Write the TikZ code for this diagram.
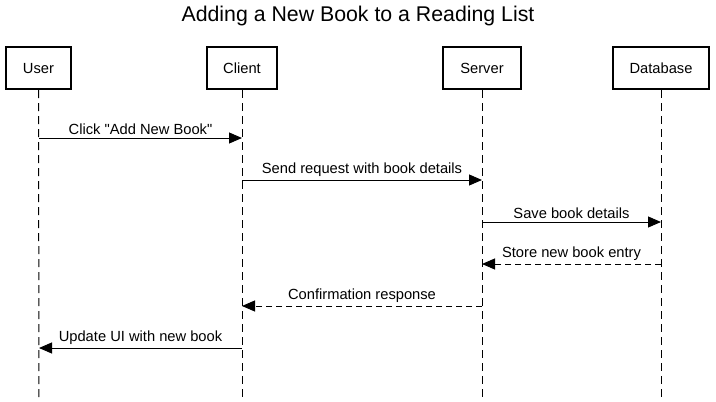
\documentclass[tikz,border=0pt]{standalone}
\usepackage{fontspec}
\setmainfont{Liberation Sans}
\usetikzlibrary{arrows.meta}
\begin{document}
\begin{tikzpicture}[x=1pt,y=-1pt,
  actor/.style={draw=black,line width=2.2pt,minimum height=42pt,inner sep=0pt,font=\fontsize{14.7}{16}\selectfont,anchor=north},
  life/.style={line width=1pt,dash pattern=on 8pt off 5pt},
  msg/.style={line width=1pt,-{Triangle[length=13pt,width=11pt]}},
  ret/.style={msg,dash pattern=on 6pt off 4pt},
  lbl/.style={font=\fontsize{14.7}{16}\selectfont,inner sep=0pt,anchor=base}]
\useasboundingbox (0,0) rectangle (716,402);
\fill[white] (0,0) rectangle (716,402);
\node[font=\fontsize{21.3}{24}\selectfont] (title) at (358,16) {Adding a New Book to a Reading List};
\node[actor,minimum width=65pt] (user) at (38.5,46) {User};
\node[actor,minimum width=70pt] (client) at (242,46) {Client};
\node[actor,minimum width=78pt] (server) at (482,46) {Server};
\node[actor,minimum width=96pt] (db) at (661,46) {Database};
\foreach \n/\x in {user/39,client/242,server/482,db/661}{
  \coordinate (\n end) at (\x,402);
  \draw[life] (\n.south) -- (\n end);
}
\foreach \n/\y in {1/138,2/180,3/222,4/264,5/306,6/348}{
  \coordinate (u\n) at (39,\y);
  \coordinate (c\n) at (242,\y);
  \coordinate (s\n) at (482,\y);
  \coordinate (d\n) at (661,\y);
}
\draw[msg] (u1) -- (c1) node[lbl,midway,above=3pt] {Click \textquotedbl Add New Book\textquotedbl};
\draw[msg] (c2) -- (s2) node[lbl,midway,above=3pt] {Send request with book details};
\draw[msg] (s3) -- (d3) node[lbl,midway,above=3pt] {Save book details};
\draw[ret] (d4) -- (s4) node[lbl,midway,above=3pt] {Store new book entry};
\draw[ret] (s5) -- (c5) node[lbl,midway,above=3pt] {Confirmation response};
\draw[msg] (c6) -- (u6) node[lbl,midway,above=3pt] {Update UI with new book};
\end{tikzpicture}
\end{document}
